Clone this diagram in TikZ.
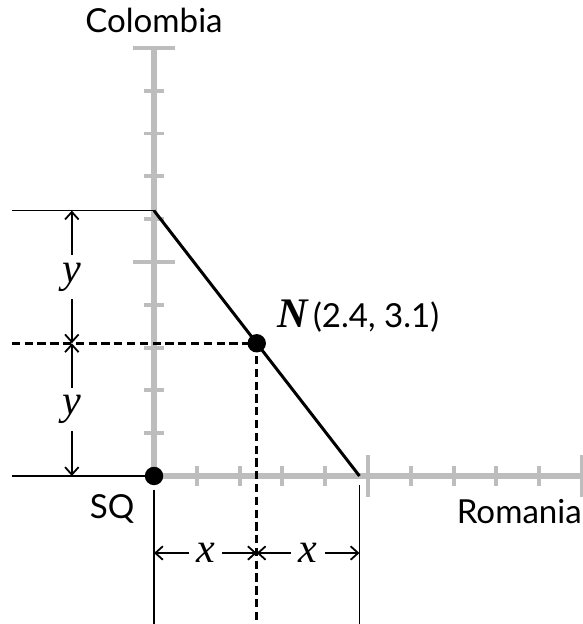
\documentclass[tikz,border=0pt]{standalone}
\usepackage{fontspec}
\setmainfont{Lato}
\newfontfamily\mathserif{Liberation Serif}
\usetikzlibrary{arrows.meta}
\definecolor{axisgray}{HTML}{BDBDBD}
\tikzset{
  axisline/.style={draw=axisgray, line width=3.6pt},
  tickline/.style={draw=axisgray, line width=2.6pt},
  mainline/.style={draw=black, line width=2pt},
  guideline/.style={draw=black, line width=1.2pt},
  dashline/.style={draw=black, line width=1.8pt, dash pattern=on 5.5pt off 3pt},
  dimarrow/.style={draw=black, line width=1.2pt, {Straight Barb[length=5pt,width=9pt]}-{Straight Barb[length=5pt,width=9pt]}},
  dimlabel/.style={fill=white, inner sep=5pt, font=\mathserif\itshape\fontsize{28}{28}\selectfont},
  axislabel/.style={font=\fontsize{22}{22}\selectfont, inner sep=0pt},
  dot/.style={circle, fill=black, minimum size=0.43cm, inner sep=0pt},
}
\begin{document}
\begin{tikzpicture}
\useasboundingbox (-3.598,-3.458) rectangle (10.0,11.12);
% axes
\coordinate (O) at (0,0);
\coordinate (ytop) at (0,10);
\coordinate (xend) at (10,0);
\draw[axisline] (O) -- (ytop);
\draw[axisline] (O) -- (xend);
\foreach \i in {1,2,3,4,6,7,8,9} {
  \draw[tickline] (-0.23,\i) -- (0.23,\i);
  \draw[tickline] (\i,-0.23) -- (\i,0.23);
}
\foreach \i in {5,10} {
  \draw[tickline] (-0.49,\i) -- (0.49,\i);
  \draw[tickline] (\i,-0.49) -- (\i,0.49);
}
% points
\coordinate (A) at (0,6.2);
\coordinate (B) at (4.8,0);
\coordinate (N) at (2.4,3.1);
% guide lines
\coordinate (Lt) at (-3.32,6.2);
\coordinate (Lm) at (-3.32,3.1);
\coordinate (Lb) at (-3.32,0);
\coordinate (Bo) at (0,-0.33);
\coordinate (Bob) at (0,-3.46);
\coordinate (Nb) at (2.4,-3.46);
\coordinate (Bt) at (4.8,-0.21);
\coordinate (Bb) at (4.8,-3.46);
\draw[guideline] (Lt) -- (A);
\draw[guideline] (Lb) -- (O);
\draw[guideline] (Bo) -- (Bob);
\draw[guideline] (Bt) -- (Bb);
\draw[dashline] (Lm) -- (N);
\draw[dashline] (N) -- (Nb);
\draw[mainline] (A) -- (B);
\node[dot] (Odot) at (O) {};
\node[dot] (Ndot) at (N) {};
% dimensions
\coordinate (yd1) at (-1.92,6.2);
\coordinate (yd2) at (-1.92,3.1);
\coordinate (yd3) at (-1.92,0);
\draw[dimarrow] (yd1) -- (yd2) node[midway, dimlabel] (ylab1) {y};
\draw[dimarrow] (yd2) -- (yd3) node[midway, dimlabel] (ylab2) {y};
\coordinate (xd1) at (0,-1.80);
\coordinate (xd2) at (2.4,-1.80);
\coordinate (xd3) at (4.8,-1.80);
\draw[dimarrow] (xd1) -- (xd2) node[midway, dimlabel] (xlab1) {x};
\draw[dimarrow] (xd2) -- (xd3) node[midway, dimlabel] (xlab2) {x};
% labels
\node[axislabel, anchor=base] (colombia) at (0,10.35) {Colombia};
\node[axislabel, anchor=base] (sq) at (-0.98,-1.0) {SQ};
\node[axislabel, anchor=base east] (romania) at (10.0,-1.10) {Romania};
\node[axislabel, anchor=base west] (nlab) at (2.87,3.48) {{\mathserif\bfseries\itshape\fontsize{28}{28}\selectfont N}\,(2.4, 3.1)};
\end{tikzpicture}
\end{document}
